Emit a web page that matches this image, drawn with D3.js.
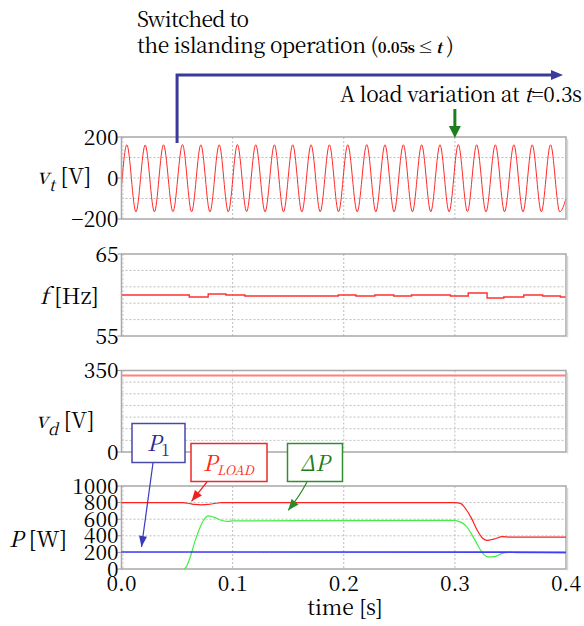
<!DOCTYPE html>
<html><head><meta charset="utf-8">
<script src="https://cdn.jsdelivr.net/npm/d3@7"></script>
<style>
body{margin:0;background:#fff}
svg{display:block}
</style>
</head><body><svg id="c" width="584" height="626"></svg>
<script>
// ---------------- DATA ----------------
const timeTicks = [0, 0.1, 0.2, 0.3, 0.4];
const timeTickLabels = ["0.0", "0.1", "0.2", "0.3", "0.4"];

// terminal voltage v_t : extremes
const vtTimes = [0, 0.0048, 0.0130, 0.0213, 0.0296, 0.0378, 0.0463, 0.0549, 0.0631, 0.0714, 0.0796,
  0.0879, 0.0961, 0.1043, 0.1126, 0.1208, 0.1292, 0.1376, 0.1458, 0.1541, 0.1623, 0.1706, 0.1788,
  0.1871, 0.1953, 0.2036, 0.2121, 0.2207, 0.2289, 0.2371, 0.2453, 0.2536, 0.2618, 0.2701, 0.2783,
  0.2866, 0.2948, 0.3031, 0.3113, 0.3196, 0.3280, 0.3364, 0.3447, 0.3531, 0.3613, 0.3696, 0.3778,
  0.3861, 0.3944, 0.4];
const vtValues = [-40, 162, -165, 161, -165, 162, -164, 163, -165, 162, -165,
  162, -165, 163, -164, 162, -165, 162, -165, 162, -165, 162, -165,
  162, -165, 162, -165, 163, -165, 162, -165, 162, -165, 162, -165,
  162, -165, 163, -164, 162, -165, 162, -165, 162, -165, 162, -165,
  162, -165, -100];
const vtTicks = [-200, 0, 200];
const vtTickLabels = ["\u2212200", "0", "200"];
const vtGrid = [-100, 0, 100];

// frequency f (step-wise)
const fTimes = [0, 0.061, 0.078, 0.094, 0.111, 0.195, 0.211, 0.228, 0.245, 0.261, 0.296, 0.312, 0.329, 0.344, 0.362, 0.379, 0.395, 0.4];
const fValues = [60.0, 59.76, 60.12, 60.0, 59.88, 60.0, 59.88, 60.0, 59.88, 60.0, 59.88, 60.24, 59.63, 59.76, 60.0, 59.88, 59.76, 59.76];
const fTicks = [55, 65];
const fTickLabels = ["55", "65"];
const fGrid = [57, 59, 61, 63];

// dc-link voltage v_d
const vdTimes = [0, 0.05, 0.4];
const vdValues = [328, 328, 328];
const vdTicks = [0, 350];
const vdTickLabels = ["0", "350"];
const vdGrid = [50, 100, 150, 200, 250, 300];

// powers
const p1Times = [0, 0.06, 0.35, 0.4];
const p1Values = [205, 205, 203, 200];
const pLoadTimes = [0, 0.055, 0.06, 0.066, 0.072, 0.078, 0.085, 0.09, 0.3, 0.305, 0.31, 0.315, 0.32, 0.325, 0.329, 0.335, 0.343, 0.35, 0.4];
const pLoadValues = [800, 800, 792, 778, 773, 778, 792, 800, 800, 790, 720, 610, 470, 370, 345, 360, 390, 385, 385];
const dPTimes = [0.056, 0.058, 0.062, 0.066, 0.07, 0.074, 0.078, 0.083, 0.089, 0.095, 0.1, 0.3, 0.302, 0.31, 0.315, 0.32, 0.325, 0.33, 0.336, 0.342, 0.348, 0.355, 0.4];
const dPValues = [0, 20, 150, 330, 480, 590, 640, 625, 590, 575, 580, 585, 580, 520, 420, 300, 190, 145, 150, 185, 200, 198, 195];
const pTicks = [0, 200, 400, 600, 800, 1000];
const pTickLabels = ["0", "200", "400", "600", "800", "1000"];
const pGrid = [200, 400, 600, 800];

// ---------------- DRAW ----------------
const FONT = '"Noto Serif CJK JP", "Liberation Serif", serif';
const svg = d3.select("#c");
const x = d3.scaleLinear().domain([0, 0.4]).range([121.5, 566]);

const panels = [
  {top: 137, bottom: 219, domain: [-200, 200], ticks: vtTicks, labels: vtTickLabels, grid: vtGrid},
  {top: 254, bottom: 336, domain: [55, 65], ticks: fTicks, labels: fTickLabels, grid: fGrid},
  {top: 370.5, bottom: 452, domain: [0, 350], ticks: vdTicks, labels: vdTickLabels, grid: vdGrid},
  {top: 486, bottom: 569, domain: [0, 1000], ticks: pTicks, labels: pTickLabels, grid: pGrid}
];

panels.forEach(p => {
  p.y = d3.scaleLinear().domain(p.domain).range([p.bottom, p.top]);
  const g = svg.append("g");
  g.append("rect").attr("x", x(0)).attr("y", p.top).attr("width", x(0.4) - x(0)).attr("height", p.bottom - p.top)
    .attr("fill", "#fff");
  g.selectAll(".hg").data(p.grid).join("line")
    .attr("x1", x(0)).attr("x2", x(0.4)).attr("y1", d => p.y(d)).attr("y2", d => p.y(d))
    .attr("stroke", "#bdbdbd").attr("stroke-dasharray", "2,2").attr("stroke-width", 1);
  g.selectAll(".vg").data(timeTicks.slice(1, 4)).join("line")
    .attr("y1", p.top).attr("y2", p.bottom).attr("x1", d => x(d)).attr("x2", d => x(d))
    .attr("stroke", "#bdbdbd").attr("stroke-dasharray", "2,2").attr("stroke-width", 1);
  g.append("line").attr("x1", x(0) + 1.5).attr("x2", x(0) + 1.5).attr("y1", p.top).attr("y2", p.bottom)
    .attr("stroke", "#cfcfcf").attr("stroke-dasharray", "2,2");
  g.selectAll(".tk").data(p.ticks).join("line")
    .attr("x1", x(0) - 4).attr("x2", x(0)).attr("y1", d => p.y(d)).attr("y2", d => p.y(d))
    .attr("stroke", "#999");
  g.selectAll(".tl").data(p.ticks).join("text")
    .attr("x", x(0) - 3).attr("y", d => p.y(d)).attr("dy", "0.36em")
    .attr("text-anchor", "end").attr("font-size", 21)
    .text((d, i) => p.labels[i]);
  p.g = g;
});

function frame(p) {
  p.g.append("rect").attr("x", x(0)).attr("y", p.top).attr("width", x(0.4) - x(0)).attr("height", p.bottom - p.top)
    .attr("fill", "none").attr("stroke", "#a8a8a8").attr("stroke-width", 1.5);
  p.g.append("line").attr("x1", x(0.4) + 1.5).attr("x2", x(0.4) + 1.5).attr("y1", p.top + 2).attr("y2", p.bottom + 1.5)
    .attr("stroke", "#d8d8d8").attr("stroke-width", 1.5);
}

function series(p, ts, vs, color, width, curve) {
  const data = ts.map((t, i) => [t, vs[i]]);
  p.g.append("path").datum(data)
    .attr("fill", "none").attr("stroke", color).attr("stroke-width", width)
    .attr("d", d3.line().x(d => x(d[0])).y(d => p.y(d[1])).curve(curve));
}

series(panels[0], vtTimes, vtValues, "#ff2a2a", 1, d3.curveMonotoneX);
frame(panels[0]);
series(panels[1], fTimes, fValues, "#ff3030", 1.4, d3.curveStepAfter);
frame(panels[1]);
series(panels[2], vdTimes, vdValues, "#ff8080", 2, d3.curveLinear);
frame(panels[2]);
frame(panels[3]);
series(panels[3], dPTimes, dPValues, "#44ee44", 1.2, d3.curveMonotoneX);
series(panels[3], p1Times, p1Values, "#3d3dff", 1.6, d3.curveLinear);
series(panels[3], pLoadTimes, pLoadValues, "#ff2020", 1.2, d3.curveMonotoneX);

// x-axis labels
svg.selectAll(".xl").data(timeTicks).join("text")
  .attr("x", d => x(d)).attr("y", 591).attr("text-anchor", "middle").attr("font-size", 21)
  .text((d, i) => timeTickLabels[i]);
svg.append("text").attr("x", 345).attr("y", 615).attr("text-anchor", "middle").attr("font-size", 21).text("time [s]");

// y-axis titles
function ytitle(xp, yp, main, sub, unit) {
  const t = svg.append("text").attr("x", xp).attr("y", yp).attr("font-size", 22);
  t.append("tspan").attr("font-style", "italic").text(main);
  if (sub) t.append("tspan").attr("font-style", "italic").attr("font-size", 16).attr("dy", 7).text(sub);
  t.append("tspan").attr("dy", sub ? -7 : 0).text(unit);
}
ytitle(37, 184, "v", "t", " [V]");
ytitle(40, 304, "f", null, " [Hz]");
ytitle(36, 428, "v", "d", " [V]");
ytitle(9, 547, "P", null, " [W]");

function arrowHead(tipX, tipY, angle, len, wid, color) {
  const bx = tipX - len * Math.cos(angle), by = tipY - len * Math.sin(angle);
  const px = -Math.sin(angle) * wid / 2, py = Math.cos(angle) * wid / 2;
  svg.append("path").attr("d", `M${tipX},${tipY}L${bx + px},${by + py}L${bx - px},${by - py}Z`).attr("fill", color);
}
function arrow(x1, y1, x2, y2, color, w, len, wid, bend) {
  const mx = (x1 + x2) / 2 + (bend || 0), my = (y1 + y2) / 2;
  svg.append("path").attr("d", `M${x1},${y1}Q${mx},${my} ${x2},${y2}`)
    .attr("fill", "none").attr("stroke", color).attr("stroke-width", w);
  const ang = Math.atan2(y2 - my, x2 - mx);
  arrowHead(x2, y2, ang, len, wid, color);
}

// top annotation: switched to islanding
const blue = "#3a3a9c";
const t0 = x(0.05);
svg.append("path").attr("d", `M${t0},143V75H553`).attr("fill", "none").attr("stroke", blue).attr("stroke-width", 3);
arrowHead(563, 75, 0, 12, 10, blue);
svg.append("text").attr("x", 137).attr("y", 27).attr("font-size", 21).attr("textLength", 112).attr("lengthAdjust", "spacing").text("Switched to");
const st = svg.append("text").attr("x", 137).attr("y", 53).attr("font-size", 21).attr("textLength", 317).attr("lengthAdjust", "spacing");
st.append("tspan").text("the islanding operation (");
st.append("tspan").attr("font-size", 15).attr("font-weight", "bold").text("0.05s \u2264 ");
st.append("tspan").attr("font-size", 15).attr("font-weight", "bold").attr("font-style", "italic").text("t");
st.append("tspan").text(" )");

// load variation annotation
const g3 = "#1e7e1e";
const la = svg.append("text").attr("x", 340).attr("y", 102).attr("font-size", 21).attr("textLength", 242).attr("lengthAdjust", "spacing");
la.append("tspan").text("A load variation at ");
la.append("tspan").attr("font-style", "italic").text("t");
la.append("tspan").text("=0.3s");
svg.append("line").attr("x1", x(0.3)).attr("x2", x(0.3)).attr("y1", 109).attr("y2", 127).attr("stroke", g3).attr("stroke-width", 3);
arrowHead(x(0.3), 138, Math.PI / 2, 12, 12, g3);

// callouts in P panel
const py = panels[3].y;
svg.append("rect").attr("x", 132).attr("y", 423.5).attr("width", 53).attr("height", 39)
  .attr("fill", "#fff").attr("stroke", "#4848a8").attr("stroke-width", 1.5);
const tp1 = svg.append("text").attr("x", 147).attr("y", 451).attr("font-size", 22).style("fill", "#2a2a96");
tp1.append("tspan").attr("font-style", "italic").text("P");
tp1.append("tspan").attr("font-size", 16).attr("dy", 5).text("1");
arrow(153, 463, x(0.018), py(265), "#3a3ac0", 1.2, 11, 8, 0);

svg.append("rect").attr("x", 191).attr("y", 443.5).attr("width", 76).attr("height", 38)
  .attr("fill", "#fff").attr("stroke", "#ee2a2a").attr("stroke-width", 1.5);
const tpl = svg.append("text").attr("x", 203).attr("y", 471).attr("font-size", 22).style("fill", "#ff2a10");
tpl.append("tspan").attr("font-style", "italic").text("P");
tpl.append("tspan").attr("font-style", "italic").attr("font-size", 13).attr("dy", 4).text("LOAD");
arrow(207, 482, x(0.063), py(816), "#ee2020", 1.2, 11, 9, 0);

svg.append("rect").attr("x", 287.5).attr("y", 443.5).attr("width", 55).attr("height", 38)
  .attr("fill", "#fff").attr("stroke", "#2f8f2f").attr("stroke-width", 1.5);
svg.append("text").attr("x", 300).attr("y", 471).attr("font-size", 22).attr("font-style", "italic")
  .style("fill", "#1c7c1c").text("\u0394P");
arrow(307, 482, x(0.15), py(707), "#2a8a2a", 1.2, 11, 9, 2);

svg.selectAll("text").style("font-family", FONT);
</script>
</body></html>
